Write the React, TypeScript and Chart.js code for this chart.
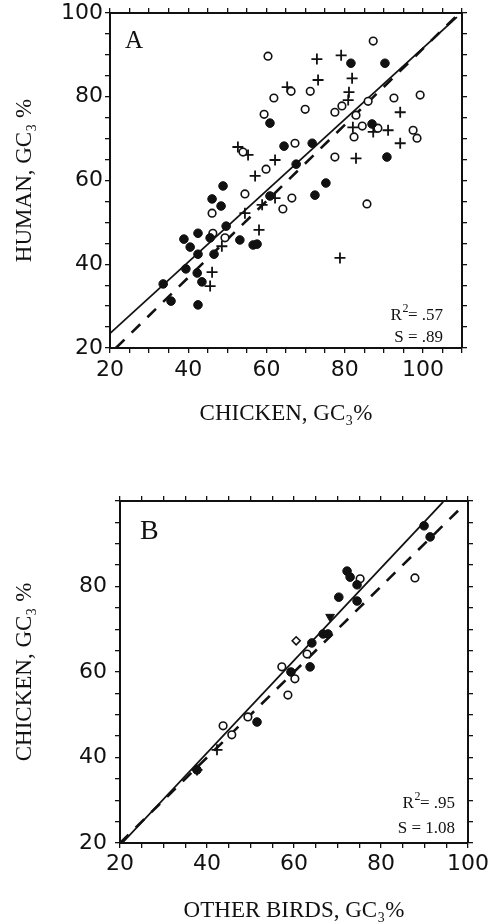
import React, { useEffect, useRef } from 'react';
import { Chart, registerables } from 'chart.js';

Chart.register(...registerables);

type Pt = [number, number];

// ---------- Panel A : human vs chicken ----------
const A_FILLED: Pt[] = [
  [60.9, 73.7], [48.9, 58.7], [46.1, 55.6], [48.4, 53.9], [81.6, 88.0], [90.3, 88.0],
  [87.0, 73.5], [64.5, 68.2], [71.7, 68.9], [90.8, 65.6], [67.6, 63.9], [75.2, 59.4],
  [72.4, 56.5], [60.9, 56.3], [49.7, 49.1], [42.5, 47.4], [38.9, 46.0], [40.5, 44.1],
  [45.6, 46.3], [53.2, 45.8], [56.6, 44.6], [57.6, 44.8], [42.5, 42.4], [46.6, 42.4],
  [39.4, 38.9], [42.3, 37.9], [43.5, 35.8], [33.6, 35.3], [35.6, 31.2], [42.5, 30.3],
];
const A_OPEN: Pt[] = [
  [60.4, 89.7], [59.4, 75.8], [54.0, 66.8], [59.9, 62.7], [54.5, 56.8], [87.3, 93.3],
  [66.3, 81.3], [71.2, 81.3], [61.9, 79.7], [79.3, 77.8], [77.5, 76.3], [69.9, 77.0],
  [86.0, 78.9], [92.6, 79.7], [99.3, 80.4], [82.9, 75.6], [84.5, 73.0], [88.5, 72.5],
  [82.4, 70.4], [97.5, 72.0], [98.5, 70.1], [67.3, 68.9], [77.5, 65.6], [85.7, 54.4],
  [66.5, 55.8], [64.2, 53.2], [46.1, 52.2], [46.3, 47.4], [49.4, 46.3],
];
const A_PLUS: Pt[] = [
  [52.7, 68.0], [55.3, 66.1], [57.1, 61.1], [58.9, 54.2], [72.9, 89.0], [79.1, 89.9],
  [73.2, 84.0], [65.3, 82.3], [81.9, 84.4], [81.1, 81.1], [80.9, 79.2], [94.2, 76.3],
  [82.1, 72.7], [87.3, 71.6], [91.1, 72.0], [94.2, 68.9], [82.9, 65.3], [62.2, 64.9],
  [62.2, 55.8], [54.5, 52.2], [58.1, 48.2], [48.6, 44.3], [46.1, 38.1], [45.6, 34.8],
  [78.8, 41.5],
];
const A_SOLID_LINE: Pt[] = [[20, 23.5], [108.7, 99.0]];
const A_DASHED_LINE: Pt[] = [[21.5, 20], [108.5, 99.2]];
const A_X_LABELS = [20, 40, 60, 80, 100];
const A_Y_LABELS = [20, 40, 60, 80, 100];
const A_X_TITLE = 'CHICKEN, GC₃%';
const A_Y_TITLE = 'HUMAN, GC₃ %';
const A_TAG = 'A';
const A_R2 = '.57';
const A_S = 'S = .89';

// ---------- Panel B : chicken vs other birds ----------
const B_FILLED: Pt[] = [
  [89.9, 94.2], [91.3, 91.6], [72.2, 83.6], [72.9, 82.2], [74.5, 80.4], [70.3, 77.5],
  [74.5, 76.6], [66.7, 68.9], [67.8, 68.9], [64.1, 66.8], [59.3, 60.0], [63.7, 61.2],
  [51.5, 48.3], [37.7, 37.1],
];
const B_OPEN: Pt[] = [
  [87.8, 82.0], [75.2, 81.8], [63.0, 64.2], [57.2, 61.2], [60.2, 58.4], [58.6, 54.6],
  [49.4, 49.5], [43.7, 47.4], [45.7, 45.3],
];
const B_PLUS: Pt[] = [[42.3, 41.8], [37.7, 37.1]];
const B_DIAMOND: Pt[] = [[60.5, 67.3]];
const B_TRIANGLE: Pt[] = [[68.3, 72.9]];
const B_SOLID_LINE: Pt[] = [[20.5, 20], [94.3, 99.8]];
const B_DASHED_LINE: Pt[] = [[20, 20], [99, 99]];
const B_X_LABELS = [20, 40, 60, 80, 100];
const B_Y_LABELS = [20, 40, 60, 80];
const B_X_TITLE = 'OTHER BIRDS, GC₃%';
const B_Y_TITLE = 'CHICKEN, GC₃ %';
const B_TAG = 'B';
const B_R2 = '.95';
const B_S = 'S = 1.08';

const INK = '#111';
const SERIF = '"Liberation Serif", "Times New Roman", serif';
const SANS = '"DejaVu Sans", sans-serif';

const toXY = (pts: Pt[]) => pts.map(([x, y]) => ({ x, y }));

function markerSets(filled: Pt[], open: Pt[], plus: Pt[], extra: any[] = []) {
  return [
    {
      label: 'filled', data: toXY(filled), pointStyle: 'circle', pointRadius: 4.3,
      backgroundColor: INK, borderColor: INK, borderWidth: 1,
    },
    {
      label: 'open', data: toXY(open), pointStyle: 'circle', pointRadius: 3.8,
      backgroundColor: '#fff', borderColor: INK, borderWidth: 1.6,
    },
    {
      label: 'plus', data: toXY(plus), pointStyle: 'cross', pointRadius: 5.5,
      backgroundColor: INK, borderColor: INK, borderWidth: 1.8,
    },
    ...extra,
  ];
}

function lineSets(solid: Pt[], dashed: Pt[]) {
  return [
    {
      label: 'fit', data: toXY(solid), showLine: true, pointRadius: 0,
      borderColor: INK, borderWidth: 1.8, fill: false,
    },
    {
      label: 'ref', data: toXY(dashed), showLine: true, pointRadius: 0,
      borderColor: INK, borderWidth: 2.6, borderDash: [12, 10], fill: false,
    },
  ];
}

type PanelOpts = {
  datasets: any[];
  xMax: number;
  xLabels: number[];
  yLabels: number[];
  xTitle: string;
  yTitle: string;
  yAxisWidth: number;
  xAxisHeight: number;
  pad: { left: number; right: number; top: number; bottom: number };
  xTitlePadBottom: number;
  yTitlePadTop: number;
  xTickPad: number;
  yTickPad: number;
  tag: string;
  tagSize: number;
  tagPos: [number, number];
  r2: string;
  s: string;
  notesRight: number;
  r2Base: number;
  sBase: number;
};

const TICK_LEN = 5;

function isLabel(v: number, list: number[]) {
  const r = Math.round(v);
  return Math.abs(v - r) < 1e-6 && list.includes(r);
}

function buildConfig(p: PanelOpts): any {
  const grid = {
    display: true, drawOnChartArea: false, drawTicks: true, tickLength: TICK_LEN,
    color: INK, lineWidth: 1.3,
  };
  const border = { display: true, color: INK, width: 2 };
  const tickFont = { family: SANS, size: 22 };
  const titleFont = { family: SERIF, size: 23, lineHeight: 1 };

  const notes = {
    id: 'notes',
    afterDraw(chart: any) {
      const ctx = chart.ctx;
      ctx.save();
      ctx.fillStyle = INK;
      ctx.textBaseline = 'alphabetic';
      ctx.textAlign = 'left';
      ctx.font = `${p.tagSize}px ${SERIF}`;
      ctx.fillText(p.tag, p.tagPos[0], p.tagPos[1]);

      const big = `17px ${SERIF}`;
      const small = `12px ${SERIF}`;
      // R^2 line, right aligned
      ctx.font = big;
      const wR = ctx.measureText('R').width;
      const wRest = ctx.measureText('= ' + p.r2).width;
      ctx.font = small;
      const w2 = ctx.measureText('2').width;
      let x = p.notesRight - (wR + w2 + wRest);
      ctx.font = big;
      ctx.fillText('R', x, p.r2Base);
      ctx.font = small;
      ctx.fillText('2', x + wR + 0.5, p.r2Base - 8);
      ctx.font = big;
      ctx.fillText('= ' + p.r2, x + wR + w2, p.r2Base);
      ctx.textAlign = 'right';
      ctx.fillText(p.s, p.notesRight, p.sBase);
      ctx.restore();
    },
  };

  return {
    type: 'scatter',
    data: { datasets: p.datasets },
    options: {
      animation: false,
      responsive: false,
      devicePixelRatio: 1,
      events: [],
      layout: { padding: p.pad },
      plugins: { legend: { display: false }, tooltip: { enabled: false } },
      scales: {
        x: {
          type: 'linear', position: 'bottom', min: 20, max: p.xMax,
          ticks: {
            stepSize: 5, autoSkip: false, maxRotation: 0, minRotation: 0,
            padding: p.xTickPad, color: INK, font: tickFont,
            callback: (v: number) => (isLabel(v, p.xLabels) ? String(Math.round(v)) : ''),
          },
          grid, border,
          title: {
            display: true, text: p.xTitle, color: INK, font: titleFont,
            padding: { top: 0, bottom: p.xTitlePadBottom },
          },
          afterFit: (s: any) => {
            s.height = p.xAxisHeight;
            s.paddingLeft = 0; s.paddingRight = 0;
          },
        },
        x2: {
          type: 'linear', position: 'top', min: 20, max: p.xMax,
          ticks: { stepSize: 5, autoSkip: false, display: false },
          grid, border,
          afterFit: (s: any) => {
            s.height = TICK_LEN;
            s.paddingLeft = 0; s.paddingRight = 0;
          },
        },
        y: {
          type: 'linear', position: 'left', min: 20, max: 100,
          ticks: {
            stepSize: 5, autoSkip: false, padding: p.yTickPad, color: INK, font: tickFont,
            callback: (v: number) => (isLabel(v, p.yLabels) ? String(Math.round(v)) : ''),
          },
          grid, border,
          title: {
            display: true, text: p.yTitle, color: INK, font: titleFont,
            padding: { top: p.yTitlePadTop, bottom: 0 },
          },
          afterFit: (s: any) => {
            s.width = p.yAxisWidth;
            s.paddingTop = 0; s.paddingBottom = 0;
          },
        },
        y2: {
          type: 'linear', position: 'right', min: 20, max: 100,
          ticks: { stepSize: 5, autoSkip: false, display: false },
          grid, border,
          afterFit: (s: any) => {
            s.width = TICK_LEN;
            s.paddingTop = 0; s.paddingBottom = 0;
          },
        },
      },
    },
    plugins: [notes],
  };
}

export default function App() {
  const refA = useRef<HTMLCanvasElement>(null);
  const refB = useRef<HTMLCanvasElement>(null);

  useEffect(() => {
    const cfgA = buildConfig({
      datasets: [...markerSets(A_FILLED, A_OPEN, A_PLUS), ...lineSets(A_SOLID_LINE, A_DASHED_LINE)],
      xMax: 110,
      xLabels: A_X_LABELS,
      yLabels: A_Y_LABELS,
      xTitle: A_X_TITLE,
      yTitle: A_Y_TITLE,
      yAxisWidth: 110,
      xAxisHeight: 114,
      pad: { left: 0, right: 23, top: 8, bottom: 0 },
      xTitlePadBottom: 37,
      yTitlePadTop: 13,
      xTickPad: 4,
      yTickPad: 2,
      tag: A_TAG,
      tagSize: 25,
      tagPos: [125, 48],
      r2: A_R2,
      s: A_S,
      notesRight: 443,
      r2Base: 320,
      sBase: 342,
    });
    const cfgB = buildConfig({
      datasets: [
        ...markerSets(B_FILLED, B_OPEN, B_PLUS, [
          {
            label: 'diamond', data: toXY(B_DIAMOND), pointStyle: 'rectRot', pointRadius: 4,
            backgroundColor: '#fff', borderColor: INK, borderWidth: 1.6,
          },
          {
            label: 'triangle', data: toXY(B_TRIANGLE), pointStyle: 'triangle', pointRadius: 5,
            rotation: 180, backgroundColor: INK, borderColor: INK, borderWidth: 1,
          },
        ]),
        ...lineSets(B_SOLID_LINE, B_DASHED_LINE),
      ],
      xMax: 100,
      xLabels: B_X_LABELS,
      yLabels: B_Y_LABELS,
      xTitle: B_X_TITLE,
      yTitle: B_Y_TITLE,
      yAxisWidth: 120,
      xAxisHeight: 81,
      pad: { left: 0, right: 17, top: 34, bottom: 0 },
      xTitlePadBottom: 1.5,
      yTitlePadTop: 13,
      xTickPad: 3,
      yTickPad: 8,
      tag: B_TAG,
      tagSize: 28,
      tagPos: [140, 77],
      r2: B_R2,
      s: B_S,
      notesRight: 455,
      r2Base: 346,
      sBase: 371,
    });
    const a = new Chart(refA.current as HTMLCanvasElement, cfgA);
    const b = new Chart(refB.current as HTMLCanvasElement, cfgB);
    return () => {
      a.destroy();
      b.destroy();
    };
  }, []);

  return (
    <div style={{ position: 'absolute', left: 0, top: 0, width: 490, height: 924, background: '#fff' }}>
      <canvas ref={refA} width={490} height={462}
        style={{ position: 'absolute', left: 0, top: 0, width: 490, height: 462, display: 'block' }} />
      <canvas ref={refB} width={490} height={462}
        style={{ position: 'absolute', left: 0, top: 462, width: 490, height: 462, display: 'block' }} />
    </div>
  );
}
